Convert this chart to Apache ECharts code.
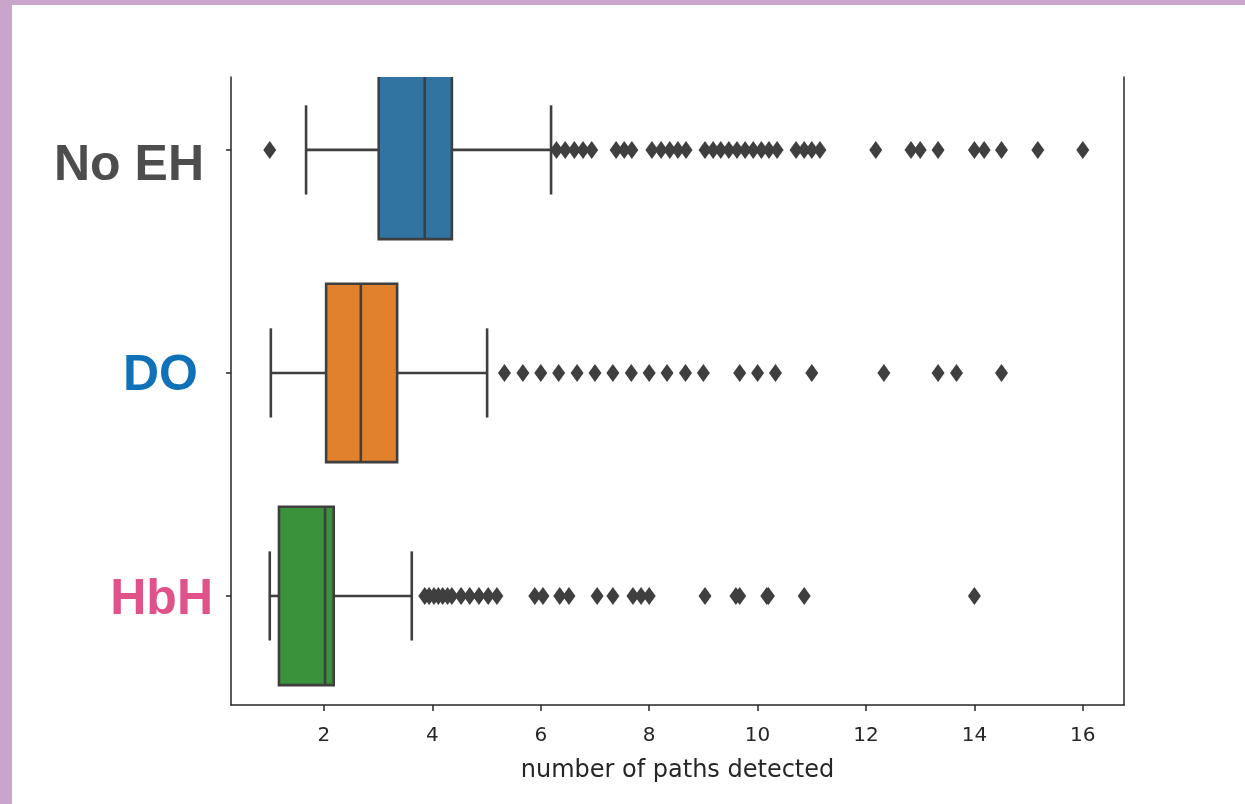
<!DOCTYPE html>
<html>
<head>
<meta charset="utf-8">
<script src="https://cdn.jsdelivr.net/npm/echarts@6/dist/echarts.min.js"></script>
<style>
  html, body { margin: 0; padding: 0; background: #ffffff; }
  #chart { position: absolute; left: 0; top: 0; width: 1245px; height: 804px; }
  .band { position: absolute; background: #c9a4cb; z-index: 5; }
</style>
</head>
<body>
<div id="chart"></div>
<div class="band" style="left:0;top:0;width:1245px;height:5px;"></div>
<div class="band" style="left:0;top:0;width:12px;height:804px;"></div>
<script>
// ---- data ----
const categories = ['No EH', 'DO', 'HbH'];
const whiskerLow  = [1.67, 1.02, 1.00];
const q1          = [3.01, 2.04, 1.17];
const median      = [3.86, 2.68, 2.02];
const q3          = [4.36, 3.35, 2.18];
const whiskerHigh = [6.19, 5.01, 3.62];

const outliersNoEH = [1.0, 6.29, 6.45, 6.62, 6.78, 6.94, 7.39, 7.54, 7.68, 8.05, 8.22, 8.38, 8.53, 8.68,
  9.03, 9.18, 9.32, 9.47, 9.62, 9.77, 9.92, 10.07, 10.21, 10.36, 10.71, 10.86, 11.0, 11.15,
  12.18, 12.83, 13.0, 13.33, 14.0, 14.18, 14.5, 15.17, 16.0];
const outliersDO = [5.33, 5.67, 6.0, 6.33, 6.67, 7.0, 7.33, 7.67, 8.0, 8.33, 8.67, 9.0,
  9.67, 10.0, 10.33, 11.0, 12.33, 13.33, 13.67, 14.5];
const outliersHbH = [3.86, 3.94, 4.03, 4.11, 4.19, 4.28, 4.36, 4.53, 4.69, 4.86, 5.03, 5.19,
  5.89, 6.04, 6.35, 6.52, 7.04, 7.33, 7.70, 7.85, 8.0, 9.03, 9.6, 9.67, 10.17, 10.2, 10.86, 14.0];

const xTicks = [2, 4, 6, 8, 10, 12, 14, 16];
const boxColors = ['#3274a1', '#e1812c', '#3a923a'];
const labelColors = ['#4d4d4d', '#0f72b8', '#e0528a'];
const edge = '#3f3f3f';

// ---- build ----
const boxData = categories.map((c, i) => [i, whiskerLow[i], q1[i], median[i], q3[i], whiskerHigh[i]]);
const outlierData = [];
[outliersNoEH, outliersDO, outliersHbH].forEach((arr, i) => arr.forEach(v => outlierData.push([v, i])));

const chart = echarts.init(document.getElementById('chart'), null, { renderer: 'canvas' });

function renderBox(params, api) {
  const cat = api.value(0);
  const lo = api.value(1), a = api.value(2), m = api.value(3), b = api.value(4), hi = api.value(5);
  const unit = api.size([0, 1])[1];
  const half = unit * 0.4;
  const capHalf = unit * 0.2;
  const pLo = api.coord([lo, cat]);
  const pA = api.coord([a, cat]);
  const pM = api.coord([m, cat]);
  const pB = api.coord([b, cat]);
  const pHi = api.coord([hi, cat]);
  const y = pA[1];
  const st = { stroke: edge, lineWidth: 2.6 };
  return {
    type: 'group',
    children: [
      { type: 'line', shape: { x1: pLo[0], y1: y, x2: pA[0], y2: y }, style: st },
      { type: 'line', shape: { x1: pB[0], y1: y, x2: pHi[0], y2: y }, style: st },
      { type: 'line', shape: { x1: pLo[0], y1: y - capHalf, x2: pLo[0], y2: y + capHalf }, style: st },
      { type: 'line', shape: { x1: pHi[0], y1: y - capHalf, x2: pHi[0], y2: y + capHalf }, style: st },
      { type: 'rect', shape: { x: pA[0], y: y - half, width: pB[0] - pA[0], height: half * 2 },
        style: { fill: boxColors[cat], stroke: edge, lineWidth: 2.6 } },
      { type: 'line', shape: { x1: pM[0], y1: y - half, x2: pM[0], y2: y + half }, style: st }
    ]
  };
}

const option = {
  backgroundColor: '#ffffff',
  animation: false,
  grid: { left: 231, right: 121, top: 77, bottom: 99 },
  xAxis: {
    type: 'value',
    min: 0.285, max: 16.76,
    name: 'number of paths detected',
    nameLocation: 'middle',
    nameGap: 54,
    nameTextStyle: { fontFamily: 'DejaVu Sans', fontSize: 24, color: '#262626' },
    splitLine: { show: false },
    axisLine: { show: true, onZero: false, lineStyle: { color: '#262626', width: 1.5 } },
    axisTick: { show: true, customValues: xTicks, length: 6, lineStyle: { color: '#262626', width: 1.5 } },
    axisLabel: { customValues: xTicks, margin: 21, fontFamily: 'DejaVu Sans', fontSize: 20, color: '#262626' }
  },
  yAxis: [{
    type: 'value',
    inverse: true,
    min: -0.327, max: 2.489,
    splitLine: { show: false },
    axisLine: { show: true, onZero: false, lineStyle: { color: '#262626', width: 1.5 } },
    axisTick: { show: true, customValues: [0, 1, 2], length: 5, lineStyle: { color: '#262626', width: 1.5 } },
    axisLabel: {
      customValues: [0, 1, 2],
      margin: 18,
      formatter: v => ['{a|', '{b|', '{c|'][Math.round(v)] + categories[Math.round(v)] + '}',
      rich: {
        a: { fontFamily: 'Liberation Sans', fontWeight: 'bold', fontSize: 50, color: labelColors[0], padding: [32, 9, 0, 0] },
        b: { fontFamily: 'Liberation Sans', fontWeight: 'bold', fontSize: 50, color: labelColors[1], padding: [6, 15, 0, 0] },
        c: { fontFamily: 'Liberation Sans', fontWeight: 'bold', fontSize: 50, color: labelColors[2], padding: [8, 0, 0, 0] }
      }
    }
  }, {
    type: 'value',
    inverse: true,
    position: 'right',
    min: -0.327, max: 2.489,
    splitLine: { show: false },
    axisLine: { show: true, onZero: false, lineStyle: { color: '#262626', width: 1.5 } },
    axisTick: { show: false },
    axisLabel: { show: false }
  }],
  series: [{
    type: 'custom',
    renderItem: renderBox,
    clip: true,
    encode: { x: [1, 2, 3, 4, 5], y: 0 },
    data: boxData,
    z: 2
  }, {
    type: 'scatter',
    symbol: 'diamond',
    symbolSize: [13, 18],
    itemStyle: { color: edge, opacity: 1 },
    data: outlierData,
    z: 3
  }]
};
chart.setOption(option);
</script>
</body>
</html>
